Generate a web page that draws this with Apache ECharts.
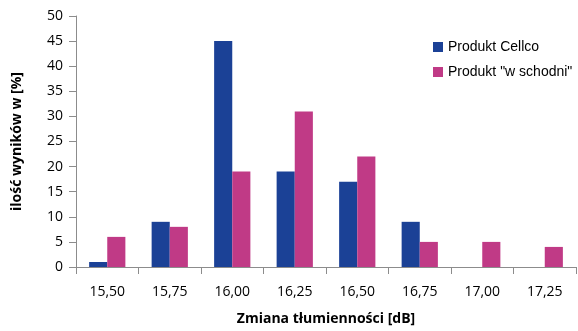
<!DOCTYPE html>
<html><head><meta charset="utf-8">
<script src="https://cdn.jsdelivr.net/npm/echarts@6/dist/echarts.min.js"></script>
<style>html,body{margin:0;padding:0;background:#fff}#c{width:578px;height:331px}</style>
</head><body><div id="c"></div>
<script>
const categories = ['15,50','15,75','16,00','16,25','16,50','16,75','17,00','17,25'];
const cellco = [1, 9, 45, 19, 17, 9, 0, 0];
const wschodni = [6, 8, 19, 31, 22, 5, 5, 4];
const yTicks = {min: 0, max: 50, interval: 5};

const chart = echarts.init(document.getElementById('c'));
const axisFont = 'Open Sans, Liberation Sans, sans-serif';
chart.setOption({
  animation: false,
  grid: {left: 76, right: 2, top: 16, bottom: 63},
  legend: {
    orient: 'vertical', left: 433, top: 40, itemWidth: 10, itemHeight: 10, itemGap: 11,
    icon: 'rect', padding: 0,
    textStyle: {fontFamily: 'Liberation Sans, Arial, sans-serif', fontSize: 14, color: '#000'},
    data: ['Produkt Cellco', 'Produkt "w schodni"']
  },
  xAxis: {
    type: 'category', data: categories,
    name: 'Zmiana tłumienności [dB]', nameLocation: 'middle', nameGap: 45,
    nameTextStyle: {fontFamily: axisFont, fontWeight: 'bold', fontSize: 14, color: '#000'},
    axisLine: {lineStyle: {color: '#8c8c8c', width: 1}},
    axisTick: {show: true, length: 7, lineStyle: {color: '#8c8c8c'}, alignWithLabel: false},
    axisLabel: {fontFamily: axisFont, fontSize: 14, color: '#000', margin: 18}
  },
  yAxis: {
    type: 'value', min: yTicks.min, max: yTicks.max, interval: yTicks.interval,
    name: 'ilość wyników w [%]', nameLocation: 'middle', nameGap: 52, nameRotate: 90,
    nameTextStyle: {fontFamily: axisFont, fontWeight: 'bold', fontSize: 14, color: '#000'},
    axisLine: {show: true, lineStyle: {color: '#8c8c8c', width: 1}},
    axisTick: {show: true, length: 7, lineStyle: {color: '#8c8c8c'}},
    splitLine: {show: false},
    axisLabel: {fontFamily: axisFont, fontSize: 14, color: '#000', margin: 13}
  },
  series: [
    {name: 'Produkt Cellco', type: 'bar', data: cellco, barGap: '0%', barCategoryGap: '42%',
     itemStyle: {color: '#1B4196'}},
    {name: 'Produkt "w schodni"', type: 'bar', data: wschodni,
     itemStyle: {color: '#C03A86'}}
  ]
});
</script></body></html>
